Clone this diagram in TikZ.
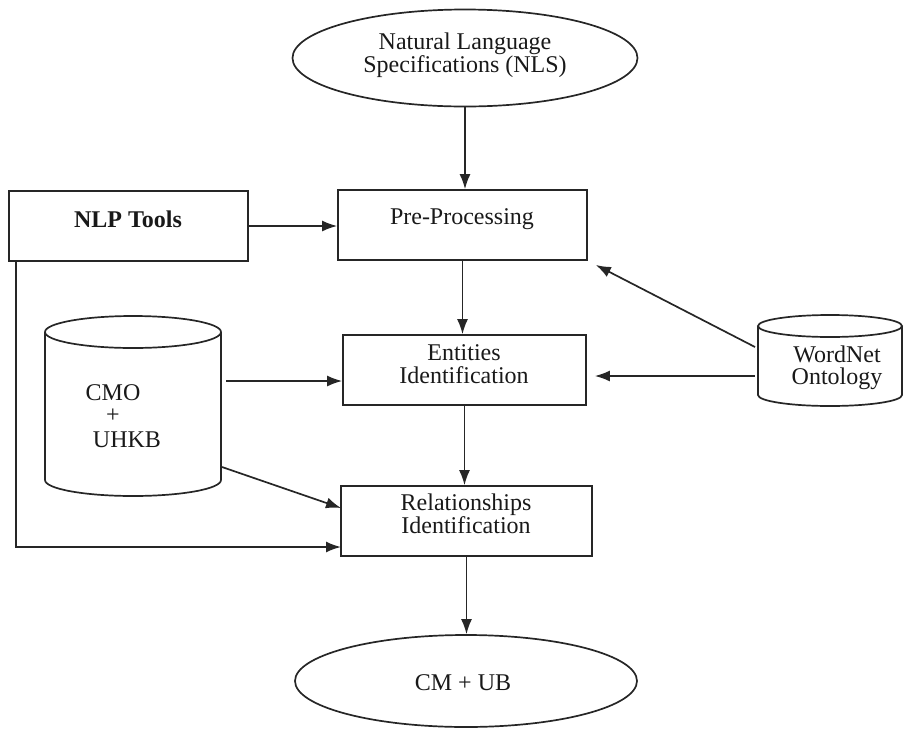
\documentclass[tikz,border=0pt]{standalone}
\usepackage{fontspec}
\setmainfont{Liberation Serif}
\usetikzlibrary{arrows.meta,shapes.geometric}
\begin{document}
\begin{tikzpicture}[x=1pt,y=-1pt,line width=1.7pt,draw=black!85,
  lbl/.style={font=\fontsize{24}{22.5}\selectfont, text=black!90, align=center, inner sep=0pt},
  stepbox/.style={draw, rectangle, minimum height=70pt, inner sep=0pt},
  oval/.style={draw, ellipse, inner sep=0pt},
  flow/.style={-{Latex[length=15pt,width=11pt]}}]
\useasboundingbox (0,0) rectangle (906,729);

% input and output ovals
\node[oval, minimum width=345pt, minimum height=97pt] (nls) at (465,58) {};
\node[lbl] (nlsT) at (465,55) {Natural Language\\Specifications (NLS)};
\node[oval, minimum width=342pt, minimum height=92pt] (cmub) at (466,681) {};
\node[lbl] (cmubT) at (463,683) {CM + UB};

% processing steps
\node[stepbox, minimum width=239pt] (nlp) at (128.5,226) {};
\node[lbl, font=\fontsize{24}{22.5}\selectfont\bfseries] (nlpT) at (128,219) {NLP Tools};
\node[stepbox, minimum width=249pt] (pre) at (462.5,225) {};
\node[lbl] (preT) at (462,219) {Pre-Processing};
\node[stepbox, minimum width=243pt] (ent) at (464.5,370) {};
\node[lbl] (entT) at (464,364) {Entities\\Identification};
\node[stepbox, minimum width=251pt] (rel) at (466.5,521) {};
\node[lbl] (relT) at (466,514) {Relationships\\Identification};

% knowledge base cylinder
\draw (133,332) ellipse [x radius=88pt, y radius=16pt];
\draw (45,332) -- (45,480) arc[start angle=180, end angle=360, x radius=88pt, y radius=16pt] -- (221,332);
\node[lbl] (cmoA) at (113,393) {CMO};
\node[lbl] (cmoB) at (113,416) {+};
\node[lbl] (cmoC) at (127,440) {UHKB};

% WordNet cylinder
\draw (830,326) ellipse [x radius=72pt, y radius=11pt];
\draw (758,326) -- (758,395) arc[start angle=180, end angle=360, x radius=72pt, y radius=11pt] -- (902,326);
\node[lbl] (wn) at (837,368) {WordNet\\Ontology};

% connector end points
\coordinate (cmoE) at (226,381);
\coordinate (cmoS) at (222,467);
\coordinate (relA) at (341,508);
\coordinate (wnE) at (755,376);
\coordinate (wnU) at (755,347);
\coordinate (nlpD) at (16,261);
\coordinate (relB) at (341,547);

% connectors
\draw[flow] (nls.south) -- (nls.south |- pre.north);
\draw[flow] (nlp.east) -- (nlp.east -| pre.west);
\draw[flow] (pre.south) -- (pre.south |- ent.north);
\draw[flow] (cmoE) -- (cmoE -| ent.west);
\draw[flow, shorten >=8pt] (wnE) -- (wnE -| ent.east);
\draw[flow, shorten >=9pt] (wnU) -- (pre.south east);
\draw[flow] (ent.south) -- (ent.south |- rel.north);
\draw[flow] (cmoS) -- (relA);
\draw[flow] (nlpD) |- (relB);
\draw[flow] (rel.south) -- (rel.south |- cmub.north);
\end{tikzpicture}
\end{document}
